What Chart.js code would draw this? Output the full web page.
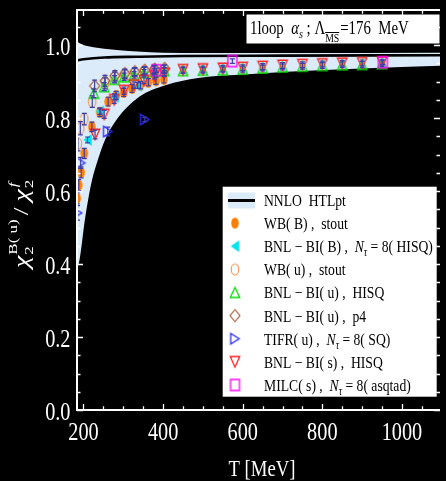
<!DOCTYPE html>
<html>
<head>
<meta charset="utf-8">
<script src="https://cdn.jsdelivr.net/npm/chart.js@4.4.1/dist/chart.umd.min.js"></script>
<style>
  html, body { margin: 0; padding: 0; background: #000; overflow: hidden; }
  canvas { display: block; }
</style>
</head>
<body>
<canvas id="c" width="446" height="481"></canvas>
<script>
// ---------- NNLO HTLpt band (scale variation) and central curve ----------
const bandUpperT = [184, 200, 225, 252, 290, 336, 400, 500, 700, 1096];
const bandUpper  = [1.009, 1.000, 0.994, 0.990, 0.986, 0.982, 0.979, 0.978, 0.978, 0.979];
const bandLowerT = [184, 190, 197, 203.5, 211.5, 221.5, 236, 254, 283, 340, 406, 488, 612, 711, 900, 1096];
const bandLower  = [0.385, 0.411, 0.466, 0.521, 0.575, 0.630, 0.685, 0.740, 0.795, 0.858, 0.890, 0.910, 0.920, 0.927, 0.936, 0.943];
const centralT   = [184, 200, 252, 336, 450, 700, 1096];
const central    = [0.958, 0.961, 0.966, 0.968, 0.970, 0.971, 0.972];

// ---------- lattice results ----------
const wbBT   = [184, 188, 194, 202, 221, 241, 262, 282, 301, 322, 343, 363, 382, 402];
const wbB    = [0.580, 0.616, 0.651, 0.703, 0.776, 0.816, 0.845, 0.862, 0.870, 0.881, 0.890, 0.898, 0.902, 0.906];
const wbBErr = [0.015, 0.015, 0.015, 0.014, 0.013, 0.012, 0.012, 0.011, 0.011, 0.011, 0.010, 0.010, 0.010, 0.010];

const bnlBT   = [210, 241, 278, 336];
const bnlB    = [0.740, 0.818, 0.858, 0.889];
const bnlBErr = [0.008, 0.008, 0.008, 0.008];

const wbUT   = [186, 192, 202, 222, 254, 278, 303, 328, 352, 377, 402];
const wbU    = [0.730, 0.772, 0.797, 0.845, 0.895, 0.912, 0.920, 0.925, 0.929, 0.932, 0.934];
const wbUErr = [0.020, 0.018, 0.016, 0.016, 0.015, 0.014, 0.012, 0.011, 0.010, 0.010, 0.010];

const bnlUHisqT   = [226, 252, 278, 302, 327, 352, 378, 403, 450, 500, 550, 600, 650, 700, 750, 800, 850, 900, 950];
const bnlUHisq    = [0.868, 0.886, 0.906, 0.913, 0.918, 0.924, 0.927, 0.930, 0.930, 0.931, 0.932, 0.934, 0.937, 0.940, 0.942, 0.944, 0.946, 0.947, 0.949];
const bnlUHisqErr = [0.012, 0.011, 0.010, 0.010, 0.009, 0.009, 0.008, 0.008, 0.008, 0.008, 0.008, 0.008, 0.008, 0.008, 0.008, 0.008, 0.008, 0.008, 0.008];

const bnlUP4T   = [228, 254, 279, 304, 329, 354, 379, 404];
const bnlUP4    = [0.888, 0.902, 0.916, 0.922, 0.927, 0.931, 0.934, 0.936];
const bnlUP4Err = [0.016, 0.015, 0.014, 0.012, 0.011, 0.010, 0.010, 0.010];

const tifrT   = [185, 193, 261, 354];
const tifr    = [0.540, 0.677, 0.763, 0.796];
const tifrErr = [0.020, 0.015, 0.012, 0.006];

const bnlST   = [229, 252, 277, 302, 327, 352, 378, 403, 450, 500, 550, 600, 650, 700, 750, 800, 850, 900, 950];
const bnlS    = [0.755, 0.810, 0.850, 0.875, 0.890, 0.903, 0.915, 0.922, 0.932, 0.934, 0.936, 0.938, 0.941, 0.944, 0.946, 0.948, 0.950, 0.951, 0.953];
const bnlSErr = [0.012, 0.011, 0.010, 0.010, 0.009, 0.009, 0.008, 0.008, 0.008, 0.008, 0.008, 0.008, 0.008, 0.008, 0.008, 0.008, 0.008, 0.008, 0.008];

const milcT   = [383, 574, 952];
const milc    = [0.931, 0.956, 0.953];
const milcErr = [0.006, 0.006, 0.006];

// ---------- axis tick labels ----------
const xTickValues = [200, 400, 600, 800, 1000];
const xTickLabels = ['200', '400', '600', '800', '1000'];
const yTickValues = [0, 0.2, 0.4, 0.6, 0.8, 1.0];
const yTickLabels = ['0.0', '0.2', '0.4', '0.6', '0.8', '1.0'];

// ---------- styling ----------
const SERIF = '"Liberation Serif", "DejaVu Serif", serif';
const SQ = 0.78;                 // horizontal squeeze applied to every text run
const BAND = '#dcebfa';
const ERR = 'rgb(62,62,168)';

function pts(xs, ys) { return xs.map((x, i) => ({ x: x, y: ys[i] })); }

function makeMarker(kind, w, h, color, filled, lw) {
  const pad = 2;
  const c = document.createElement('canvas');
  c.width = Math.ceil(w + 2 * pad);
  c.height = Math.ceil(h + 2 * pad);
  const g = c.getContext('2d');
  const cx = c.width / 2, cy = c.height / 2, rx = w / 2, ry = h / 2;
  g.beginPath();
  if (kind === 'circle') g.ellipse(cx, cy, rx, ry, 0, 0, Math.PI * 2);
  else if (kind === 'up') { g.moveTo(cx, cy - ry); g.lineTo(cx + rx, cy + ry); g.lineTo(cx - rx, cy + ry); g.closePath(); }
  else if (kind === 'down') { g.moveTo(cx, cy + ry); g.lineTo(cx + rx, cy - ry); g.lineTo(cx - rx, cy - ry); g.closePath(); }
  else if (kind === 'left') { g.moveTo(cx - rx, cy); g.lineTo(cx + rx, cy - ry); g.lineTo(cx + rx, cy + ry); g.closePath(); }
  else if (kind === 'right') { g.moveTo(cx + rx, cy); g.lineTo(cx - rx, cy - ry); g.lineTo(cx - rx, cy + ry); g.closePath(); }
  else if (kind === 'diamond') { g.moveTo(cx, cy - ry); g.lineTo(cx + rx, cy); g.lineTo(cx, cy + ry); g.lineTo(cx - rx, cy); g.closePath(); }
  else if (kind === 'square') g.rect(cx - rx, cy - ry, w, h);
  if (filled) { g.fillStyle = color; g.fill(); }
  else { g.strokeStyle = color; g.lineWidth = lw || 1.2; g.stroke(); }
  return c;
}

const mk = {
  wbB:   makeMarker('circle', 7.5, 11, '#ff8000', true),
  bnlB:  makeMarker('left', 8.5, 12, '#00e4f0', true),
  wbU:   makeMarker('circle', 7.5, 11, '#f39245', false, 1.1),
  uHisq: makeMarker('up', 9.5, 10, '#00e000', false, 1.3),
  uP4:   makeMarker('diamond', 10, 12, '#a0522d', false, 1.1),
  tifr:  makeMarker('right', 8.5, 10.5, '#2a2aff', false, 1.3),
  sHisq: makeMarker('down', 9.5, 10.5, '#ff2020', false, 1.3),
  milc:  makeMarker('square', 9, 11, '#ff00ff', false, 1.3)
};

function series(label, xs, ys, errs, marker, order) {
  return {
    type: 'scatter', label: label, data: pts(xs, ys), errorBars: errs,
    pointStyle: marker, pointRadius: 5, pointHoverRadius: 5, showLine: false, order: order
  };
}

const datasets = [
  { type: 'line', label: 'band-lower', data: pts(bandLowerT, bandLower), showLine: true,
    borderWidth: 0, borderColor: 'rgba(0,0,0,0)', pointRadius: 0, fill: false,
    cubicInterpolationMode: 'monotone', order: 100 },
  { type: 'line', label: 'NNLO HTLpt', data: pts(bandUpperT, bandUpper), showLine: true,
    borderWidth: 0, borderColor: 'rgba(0,0,0,0)', pointRadius: 0, fill: { target: 0 },
    backgroundColor: BAND, cubicInterpolationMode: 'monotone', order: 99 },
  { type: 'line', label: 'central', data: pts(centralT, central), showLine: true,
    borderWidth: 2.6, borderColor: '#000', pointRadius: 0, fill: false,
    cubicInterpolationMode: 'monotone', order: 98 },
  series('WB(B), stout', wbBT, wbB, wbBErr, mk.wbB, 8),
  series('BNL-BI(B), HISQ', bnlBT, bnlB, bnlBErr, mk.bnlB, 7),
  series('WB(u), stout', wbUT, wbU, wbUErr, mk.wbU, 6),
  series('BNL-BI(u), HISQ', bnlUHisqT, bnlUHisq, bnlUHisqErr, mk.uHisq, 4),
  series('BNL-BI(u), p4', bnlUP4T, bnlUP4, bnlUP4Err, mk.uP4, 5),
  series('TIFR(u), SQ', tifrT, tifr, tifrErr, mk.tifr, 3),
  series('BNL-BI(s), HISQ', bnlST, bnlS, bnlSErr, mk.sHisq, 2),
  series('MILC(s), asqtad', milcT, milc, milcErr, mk.milc, 1)
];

// ---------- text helpers ----------
function runWidth(ctx, s, font) { ctx.save(); ctx.font = font; const w = ctx.measureText(s).width * SQ; ctx.restore(); return w; }
function drawRun(ctx, s, x, y, font, color) {
  ctx.save(); ctx.font = font; ctx.fillStyle = color; ctx.textAlign = 'left'; ctx.textBaseline = 'alphabetic';
  ctx.translate(x, y); ctx.scale(SQ, 1); ctx.fillText(s, 0, 0); ctx.restore();
  return runWidth(ctx, s, font);
}
function drawText(ctx, s, x, y, font, align, color) {
  const w = runWidth(ctx, s, font);
  const x0 = align === 'center' ? x - w / 2 : align === 'right' ? x - w : x;
  drawRun(ctx, s, x0, y, font, color);
}
function drawRich(ctx, segs, x, y, color) {
  let cx = x;
  for (const s of segs) { cx += drawRun(ctx, s.t, cx, y + (s.dy || 0), s.f, color); }
  return cx;
}

// ---------- plugins ----------
const backdrop = {
  id: 'backdrop',
  beforeDraw(chart) { const c = chart.ctx; c.save(); c.fillStyle = '#000'; c.fillRect(0, 0, chart.width, chart.height); c.restore(); }
};

const errorBars = {
  id: 'errorBars',
  afterDatasetsDraw(chart) {
    const { ctx, chartArea: a, scales: { x, y } } = chart;
    ctx.save();
    ctx.beginPath(); ctx.rect(a.left, a.top, a.right - a.left, a.bottom - a.top); ctx.clip();
    ctx.strokeStyle = ERR; ctx.lineWidth = 1.2;
    chart.data.datasets.forEach(ds => {
      if (!ds.errorBars) return;
      ds.data.forEach((p, i) => {
        const e = ds.errorBars[i];
        const px = x.getPixelForValue(p.x);
        const y1 = y.getPixelForValue(p.y - e), y2 = y.getPixelForValue(p.y + e);
        ctx.beginPath();
        ctx.moveTo(px, y1); ctx.lineTo(px, y2);
        ctx.moveTo(px - 2.5, y1); ctx.lineTo(px + 2.5, y1);
        ctx.moveTo(px - 2.5, y2); ctx.lineTo(px + 2.5, y2);
        ctx.stroke();
      });
    });
    ctx.restore();
  }
};

const frame = {
  id: 'frame',
  afterDatasetsDraw(chart) {
    const { ctx, chartArea: a, scales: { x, y } } = chart;
    ctx.save();
    ctx.strokeStyle = '#fff';
    ctx.lineWidth = 2;
    ctx.beginPath();
    ctx.moveTo(a.right, a.top); ctx.lineTo(a.left, a.top); ctx.lineTo(a.left, a.bottom); ctx.lineTo(a.right, a.bottom);
    ctx.stroke();
    ctx.lineWidth = 1.3;
    ctx.beginPath();
    for (let t = 200; t <= x.max; t += 50) {
      const px = Math.round(x.getPixelForValue(t)) + 0.5;
      const L = t % 200 === 0 ? 6 : 3.7;
      ctx.moveTo(px, a.bottom); ctx.lineTo(px, a.bottom - L);
      ctx.moveTo(px, a.top); ctx.lineTo(px, a.top + L);
    }
    for (let k = 0; k * 0.05 <= y.max; k++) {
      const py = Math.round(y.getPixelForValue(k * 0.05)) + 0.5;
      const L = k % 4 === 0 ? 6 : 3.5;
      ctx.moveTo(a.left, py); ctx.lineTo(a.left + L, py);
      ctx.moveTo(a.right, py); ctx.lineTo(a.right - L, py);
    }
    ctx.stroke();
    ctx.restore();
  }
};

const annotations = {
  id: 'annotations',
  afterDraw(chart) {
    const { ctx, scales: { x, y } } = chart;
    const tickFont = '26px ' + SERIF;
    // tick labels
    xTickValues.forEach((v, i) => drawText(ctx, xTickLabels[i], x.getPixelForValue(v), 440, tickFont, 'center', '#fff'));
    yTickValues.forEach((v, i) => drawText(ctx, yTickLabels[i], 70.5, y.getPixelForValue(v) + 9.5, tickFont, 'right', '#fff'));

    // x-axis title
    drawText(ctx, 'T [MeV]', 262, 476, '24px ' + SERIF, 'center', '#fff');

    // y-axis title, rotated
    ctx.save();
    ctx.translate(28, 268);
    ctx.rotate(-Math.PI / 2);
    ctx.scale(1, SQ);
    ctx.fillStyle = '#fff';
    ctx.textBaseline = 'alphabetic';
    const big = 'italic 28px ' + SERIF, small = '17px ' + SERIF, smallI = 'italic 17px ' + SERIF;
    let cx = 0;
    ctx.font = big; ctx.fillText('\u03C7', cx, 0); cx += ctx.measureText('\u03C7').width + 1;
    ctx.font = small; ctx.fillText('2', cx, 7); const wB = ctx.measureText('B( u)').width; ctx.fillText('B( u)', cx, -14);
    cx += wB + 4;
    ctx.font = '28px ' + SERIF; ctx.fillText('/', cx, 0); cx += ctx.measureText('/').width + 6;
    ctx.font = big; ctx.fillText('\u03C7', cx, 0); cx += ctx.measureText('\u03C7').width + 1;
    ctx.font = small; ctx.fillText('2', cx, 7);
    ctx.font = smallI; ctx.fillText('f', cx + 1, -14);
    ctx.restore();

    // coupling box
    ctx.save(); ctx.fillStyle = '#fff'; ctx.fillRect(246.5, 14.5, 193, 29); ctx.restore();
    const tf = '19px ' + SERIF, tfi = 'italic 19px ' + SERIF;
    let bx = 250;
    bx = drawRich(ctx, [{ t: '1loop  ', f: tf }, { t: '\u03B1', f: tfi }, { t: 's', f: 'italic 13px ' + SERIF, dy: 4 },
                        { t: ' ; \u039B', f: tf }], bx, 33.5, '#000');
    const msX = bx;
    const msW = drawRun(ctx, 'MS', msX, 41.5, '12.5px ' + SERIF, '#000');
    ctx.save(); ctx.strokeStyle = '#000'; ctx.lineWidth = 1; ctx.beginPath(); ctx.moveTo(msX, 32.5); ctx.lineTo(msX + msW, 32.5); ctx.stroke(); ctx.restore();
    drawRun(ctx, '=176  MeV', msX + msW + 1, 33.5, tf, '#000');

    // legend
    const L = { x0: 222.7, y0: 186.7, x1: 436.7, y1: 396.7 };
    ctx.save(); ctx.fillStyle = '#fff'; ctx.fillRect(L.x0, L.y0, L.x1 - L.x0, L.y1 - L.y0); ctx.restore();
    const lf = '17.5px ' + SERIF, lfi = 'italic 17.5px ' + SERIF, lfs = 'italic 12px ' + SERIF;
    const Ntau = [{ t: 'N', f: lfi }, { t: '\u03C4', f: lfs, dy: 4 }];
    const rows = [
      { m: 'band', segs: [{ t: 'NNLO  HTLpt', f: lf }] },
      { m: mk.wbB, segs: [{ t: 'WB( B) ,  stout', f: lf }] },
      { m: mk.bnlB, segs: [{ t: 'BNL \u2212 BI( B) ,  ', f: lf }].concat(Ntau, [{ t: ' = 8( HISQ)', f: lf }]) },
      { m: mk.wbU, segs: [{ t: 'WB( u) ,  stout', f: lf }] },
      { m: mk.uHisq, segs: [{ t: 'BNL \u2212 BI( u) ,  HISQ', f: lf }] },
      { m: mk.uP4, segs: [{ t: 'BNL \u2212 BI( u) ,  p4', f: lf }] },
      { m: mk.tifr, segs: [{ t: 'TIFR( u) ,  ', f: lf }].concat(Ntau, [{ t: ' = 8( SQ)', f: lf }]) },
      { m: mk.sHisq, segs: [{ t: 'BNL \u2212 BI( s) ,  HISQ', f: lf }] },
      { m: mk.milc, segs: [{ t: 'MILC( s) ,  ', f: lf }].concat(Ntau, [{ t: ' = 8( asqtad)', f: lf }]) }
    ];
    rows.forEach((r, i) => {
      const cy = 200 + 23.12 * i;
      if (r.m === 'band') {
        ctx.save();
        ctx.fillStyle = BAND; ctx.fillRect(228, cy - 7.5, 27, 16);
        ctx.strokeStyle = '#000'; ctx.lineWidth = 3; ctx.beginPath(); ctx.moveTo(228, cy + 0.5); ctx.lineTo(255, cy + 0.5); ctx.stroke();
        ctx.restore();
      } else {
        ctx.drawImage(r.m, 235 - r.m.width / 2, cy - r.m.height / 2);
      }
      drawRich(ctx, r.segs, 264, cy + 6, '#000');
    });
  }
};

new Chart(document.getElementById('c'), {
  type: 'scatter',
  data: { datasets: datasets },
  options: {
    responsive: false,
    animation: false,
    events: [],
    layout: { padding: { top: 10, right: 0, left: 0, bottom: 0 } },
    plugins: { legend: { display: false }, tooltip: { enabled: false } },
    scales: {
      x: {
        type: 'linear', min: 183.7, max: 1095.6,
        grid: { display: false, drawTicks: false }, border: { display: false },
        ticks: { display: false },
        afterFit(s) { s.height = 71; }
      },
      y: {
        type: 'linear', min: 0, max: 1.096,
        grid: { display: false, drawTicks: false }, border: { display: false },
        ticks: { display: false },
        afterFit(s) { s.width = 77; }
      }
    }
  },
  plugins: [backdrop, errorBars, frame, annotations]
});
</script>
</body>
</html>
